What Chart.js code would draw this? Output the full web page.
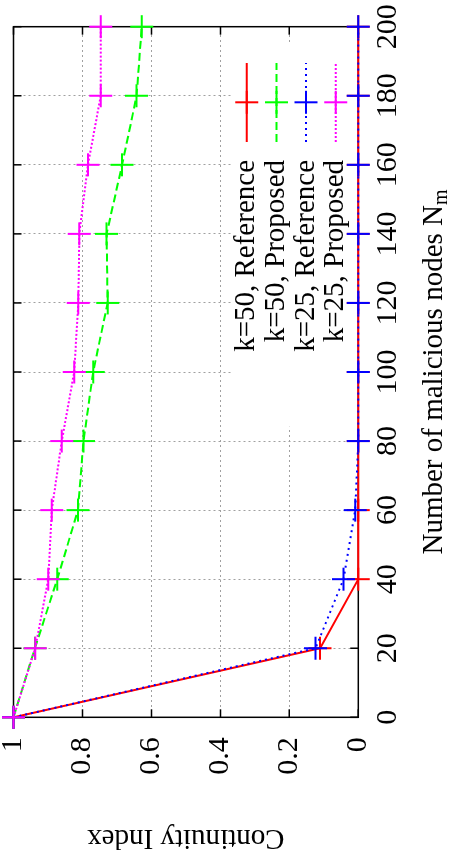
<!DOCTYPE html>
<html>
<head>
<meta charset="utf-8">
<script src="https://cdn.jsdelivr.net/npm/chart.js@4.4.0/dist/chart.umd.min.js"></script>
<style>
  html, body { margin: 0; padding: 0; background: #fff; overflow: hidden; }
  /* chart is laid out landscape, then turned a quarter to the left */
  #wrap { position: absolute; left: 0; top: 0; width: 851px; height: 449px;
          transform-origin: 0 0; transform: translate(0, 851px) rotate(-90deg); }
</style>
</head>
<body>
<div id="wrap"><canvas id="c" width="851" height="449"></canvas></div>
<script>
// ── data ──────────────────────────────────────────────
const nodes        = [0, 20, 40, 60, 80, 100, 120, 140, 160, 180, 200];
const k50Reference = [1, 0.111, 0, 0, 0, 0, 0, 0, 0, 0, 0];
const k50Proposed  = [1, 0.938, 0.873, 0.813, 0.797, 0.769, 0.727, 0.730, 0.685, 0.643, 0.628];
const k25Reference = [1, 0.124, 0.043, 0.009, 0, 0, 0, 0, 0, 0, 0];
const k25Proposed  = [1, 0.937, 0.899, 0.889, 0.860, 0.824, 0.812, 0.809, 0.784, 0.747, 0.747];
const seriesLabels = ["k=50, Reference", "k=50, Proposed", "k=25, Reference", "k=25, Proposed"];
const xRange = [0, 200, 20];
const yRange = [0, 1, 0.2];
const xTitle = "Number of malicious nodes N", xTitleSub = "m";
const yTitle = "Continuity Index";

const FONT = '"Liberation Serif", "Times New Roman", serif';

function series(label, values, color, dash, order) {
  return {
    label, order,
    data: nodes.map((n, i) => ({ x: n, y: values[i] })),
    borderColor: color, backgroundColor: color, borderWidth: 2, borderDash: dash,
    pointStyle: "cross", pointRadius: 11.5, pointBorderWidth: 2, pointBorderColor: color,
    tension: 0, clip: false,
  };
}

const datasets = [
  series(seriesLabels[0], k50Reference, "#ff0000", [], 4),
  series(seriesLabels[1], k50Proposed,  "#00ff00", [8, 4], 3),
  series(seriesLabels[2], k25Reference, "#0000ff", [2, 4], 2),
  series(seriesLabels[3], k25Proposed,  "#ff00ff", [2, 2], 1),
];

// gnuplot-ish frame: opaque key box, border, inward ticks on all sides
const frame = {
  id: "frame",
  beforeDatasetsDraw(chart) {
    const { ctx, chartArea: a, scales: { x, y } } = chart;
    ctx.save();
    ctx.fillStyle = "#fff";
    ctx.fillRect(a.right - 400, a.bottom - 126, 382, 126);
    ctx.strokeStyle = "#000";
    ctx.lineWidth = 1.5;
    ctx.strokeRect(a.left, a.top, a.right - a.left, a.bottom - a.top);
    ctx.beginPath();
    x.ticks.forEach(t => {
      const px = x.getPixelForValue(t.value);
      ctx.moveTo(px, a.bottom); ctx.lineTo(px, a.bottom - 8);
      ctx.moveTo(px, a.top);    ctx.lineTo(px, a.top + 8);
    });
    y.ticks.forEach(t => {
      const py = y.getPixelForValue(t.value);
      ctx.moveTo(a.left, py);  ctx.lineTo(a.left + 8, py);
      ctx.moveTo(a.right, py); ctx.lineTo(a.right - 8, py);
    });
    ctx.stroke();
    ctx.restore();
  },
  afterDatasetsDraw(chart) {
    const { ctx, chartArea: a } = chart;
    ctx.save();
    // key
    ctx.font = `29px ${FONT}`;
    ctx.fillStyle = "#000";
    ctx.textAlign = "right";
    ctx.textBaseline = "middle";
    chart.data.datasets.forEach((ds, i) => {
      const ky = 246.7 + i * 29.7;
      ctx.fillText(ds.label, 691, ky);
      ctx.strokeStyle = ds.borderColor;
      ctx.lineWidth = 2;
      ctx.setLineDash(ds.borderDash);
      ctx.beginPath(); ctx.moveTo(709, ky); ctx.lineTo(788, ky); ctx.stroke();
      ctx.setLineDash([]);
      Chart.helpers.drawPoint(ctx, { pointStyle: "cross", radius: 11.5, borderWidth: 2 }, 748.7, ky);
    });
    // x title with subscript
    const main = xTitle;
    ctx.font = `29px ${FONT}`;
    const w1 = ctx.measureText(main).width;
    ctx.font = `20px ${FONT}`;
    const w2 = ctx.measureText(xTitleSub).width;
    const x0 = (a.left + a.right) / 2 - (w1 + w2) / 2;
    ctx.textAlign = "left";
    ctx.textBaseline = "alphabetic";
    ctx.font = `29px ${FONT}`;
    ctx.fillText(main, x0, 441.5);
    ctx.font = `20px ${FONT}`;
    ctx.fillText(xTitleSub, x0 + w1, 447);
    ctx.restore();
  },
};

new Chart(document.getElementById("c"), {
  type: "line",
  data: { datasets },
  plugins: [frame],
  options: {
    responsive: false, animation: false, events: [],
    layout: { padding: { top: 12.7, right: 26.7, left: 0, bottom: 0 } },
    plugins: { legend: { display: false }, tooltip: { enabled: false } },
    scales: {
      x: {
        type: "linear", min: xRange[0], max: xRange[1],
        ticks: { stepSize: xRange[2], color: "#000", padding: 12, maxRotation: 0, font: { family: FONT, size: 30 } },
        grid: { color: "#a0a0a0", lineWidth: 1, drawTicks: false },
        border: { display: false, dash: [2, 3] },
        afterFit(s) { s.height = 90.7; s.paddingLeft = 0; s.paddingRight = 0; },
      },
      y: {
        type: "linear", min: yRange[0], max: yRange[1],
        ticks: { stepSize: yRange[2], color: "#000", padding: 20, font: { family: FONT, size: 30 },
                 callback: v => String(Math.round(v * 10) / 10) },
        grid: { color: "#a0a0a0", lineWidth: 1, drawTicks: false },
        border: { display: false, dash: [2, 3] },
        title: { display: true, text: yTitle, color: "#000", font: { family: FONT, size: 29, lineHeight: 1 }, padding: { top: -1.5, bottom: 0 } },
        afterFit(s) { s.width = 133.7; s.paddingTop = 0; s.paddingBottom = 0; },
      },
    },
  },
});
</script>
</body>
</html>
